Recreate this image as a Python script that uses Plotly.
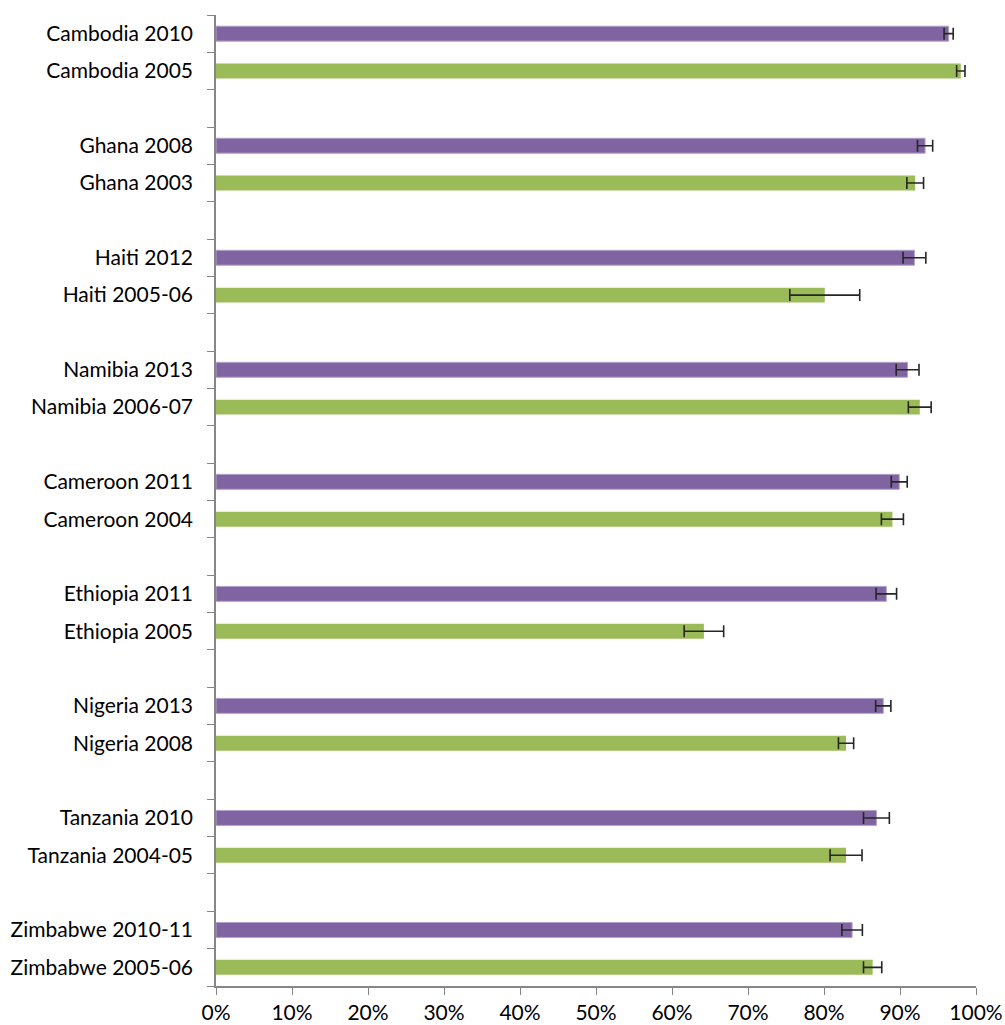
import plotly.graph_objects as go

# Slot order top-to-bottom ("" = blank slot separating country groups)
slots = ["Cambodia 2010", "Cambodia 2005", "",
         "Ghana 2008", "Ghana 2003", "",
         "Haiti 2012", "Haiti 2005-06", "",
         "Namibia 2013", "Namibia 2006-07", "",
         "Cameroon 2011", "Cameroon 2004", "",
         "Ethiopia 2011", "Ethiopia 2005", "",
         "Nigeria 2013", "Nigeria 2008", "",
         "Tanzania 2010", "Tanzania 2004-05", "",
         "Zimbabwe 2010-11", "Zimbabwe 2005-06"]

recent_labels = ["Cambodia 2010", "Ghana 2008", "Haiti 2012", "Namibia 2013", "Cameroon 2011",
                 "Ethiopia 2011", "Nigeria 2013", "Tanzania 2010", "Zimbabwe 2010-11"]
recent_values = [96.4, 93.3, 91.9, 91.0, 89.9, 88.2, 87.8, 86.9, 83.7]
recent_err = [0.6, 1.0, 1.5, 1.5, 1.05, 1.35, 1.0, 1.7, 1.35]

earlier_labels = ["Cambodia 2005", "Ghana 2003", "Haiti 2005-06", "Namibia 2006-07", "Cameroon 2004",
                  "Ethiopia 2005", "Nigeria 2008", "Tanzania 2004-05", "Zimbabwe 2005-06"]
earlier_values = [98.0, 92.0, 80.1, 92.6, 89.0, 64.2, 82.9, 82.9, 86.4]
earlier_err = [0.55, 1.1, 4.6, 1.5, 1.45, 2.6, 1.0, 2.1, 1.2]

x_tickvals = [0, 10, 20, 30, 40, 50, 60, 70, 80, 90, 100]

PURPLE = "#8064A2"
GREEN = "#9BBB59"
AXIS = "#868686"
FONT = "Lato"

recent_pos = [slots.index(s) for s in recent_labels]
earlier_pos = [slots.index(s) for s in earlier_labels]
label_pos = [i for i, s in enumerate(slots) if s]
label_txt = [s for s in slots if s]
boundaries = [i - 0.5 for i in range(len(slots) + 1)]

fig = go.Figure()
fig.add_trace(go.Bar(
    y=recent_pos, x=recent_values, orientation="h", width=0.4,
    marker=dict(color=PURPLE, line=dict(color="#B3A2C7", width=1)),
    error_x=dict(type="data", array=recent_err, color="#262626", thickness=1.6, width=6),
    showlegend=False, hovertext=recent_labels,
))
fig.add_trace(go.Bar(
    y=earlier_pos, x=earlier_values, orientation="h", width=0.4,
    marker=dict(color=GREEN, line=dict(width=0)),
    error_x=dict(type="data", array=earlier_err, color="#262626", thickness=1.6, width=6),
    showlegend=False, hovertext=earlier_labels,
))

fig.update_layout(
    template="none",
    width=1005, height=1025,
    margin=dict(l=216, r=29, t=15, b=39, pad=0),
    paper_bgcolor="white", plot_bgcolor="white",
    barmode="overlay",
    font=dict(family=FONT, size=21, color="#000000"),
    xaxis=dict(
        range=[0, 100], tickmode="array", tickvals=x_tickvals,
        ticktext=[f"{v}%" for v in x_tickvals],
        showgrid=False, zeroline=False, automargin=False,
        showline=True, linecolor=AXIS, linewidth=1.5,
        ticks="outside", ticklen=7, tickcolor=AXIS, tickwidth=1.2,
        tickfont=dict(size=21),
    ),
    yaxis=dict(
        range=[len(slots) - 0.5, -0.5],
        tickmode="array", tickvals=label_pos, ticktext=label_txt,
        showgrid=False, zeroline=False, automargin=False,
        showline=True, linecolor=AXIS, linewidth=1.5,
        ticks="outside", ticklen=0, tickcolor=AXIS,
        ticklabelstandoff=17,
        tickfont=dict(size=21),
        minor=dict(tickmode="array", tickvals=boundaries, ticks="outside",
                   ticklen=7, tickcolor=AXIS, tickwidth=1.2, showgrid=False),
    ),
)

fig.write_html("out.html", config={"displayModeBar": False},
               post_script="document.body.style.margin='0';document.body.style.overflow='hidden';")
